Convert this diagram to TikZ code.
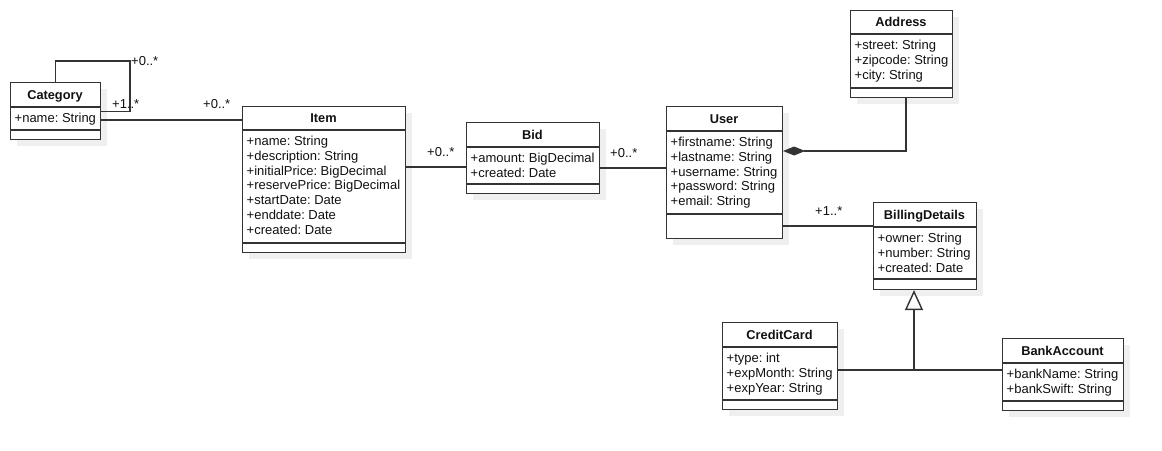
\documentclass[tikz,border=0pt]{standalone}
\usepackage{fontspec}
\setmainfont{Liberation Sans}
\usetikzlibrary{arrows.meta}
\definecolor{linec}{HTML}{333333}
\definecolor{textc}{HTML}{111111}
\definecolor{shadowc}{HTML}{EFEFEF}
\tikzset{
  classbox/.style={draw=linec, line width=1.1pt, fill=white, inner sep=0pt, anchor=north west},
  sepline/.style={draw=linec, line width=1.1pt},
  conn/.style={draw=linec, line width=1.1pt},
  gen/.style={draw=linec, line width=1.4pt},
  title/.style={font=\fontsize{12.8}{15}\selectfont\bfseries\frenchspacing, text=textc, inner sep=0pt, anchor=base},
  attr/.style={font=\fontsize{13}{15}\selectfont\frenchspacing, text=textc, inner sep=0pt, anchor=base west},
  mult/.style={font=\fontsize{13}{15}\selectfont\frenchspacing, text=textc, inner sep=0pt, anchor=base west},
}
% #1 name, #2 x1, #3 y1, #4 x2, #5 y2, #6 sep1, #7 sep2, #8 title, #9 attributes
\newcommand\umlclass[9]{%
  \fill[shadowc] (#2+7,#3+7) rectangle (#4+7,#5+7);
  \node[classbox, minimum width={#4-#2}, minimum height={#5-#3}] (#1) at (#2,#3) {};
  \draw[sepline] (#2,#6) -- (#4,#6);
  \draw[sepline] (#2,#7) -- (#4,#7);
  \node[title] (#1-t) at ({(#2+#4)/2},{(#3+#6)/2+4.5}) {#8};
  \foreach \a [count=\i] in {#9} {
    \node[attr] (#1-a\i) at (#2+4.5,{#6+15.5+14.75*(\i-1)}) {\a};
  }
}
\begin{document}
\frenchspacing
\begin{tikzpicture}[x=1pt,y=-1pt]
\fill[white] (0,0) rectangle (1162,450);
\useasboundingbox (0,0) rectangle (1162,450);

\umlclass{Category}{10}{82}{100}{139}{107}{130}{Category}{+name: String}
\umlclass{Item}{242}{106}{405}{252}{130}{243}{Item}{+name: String,+description: String,+initialPrice: BigDecimal,+reservePrice: BigDecimal,+startDate: Date,+enddate: Date,+created: Date}
\umlclass{Bid}{466}{122}{599}{193}{147}{184}{Bid}{+amount: BigDecimal,+created: Date}
\umlclass{User}{666}{106}{782}{238}{131}{214}{User}{+firstname: String,+lastname: String,+username: String,+password: String,+email: String}
\umlclass{Address}{850}{10}{952}{97}{34}{88}{Address}{+street: String,+zipcode: String,+city: String}
\umlclass{BillingDetails}{873}{202}{976}{289}{227}{279}{BillingDetails}{+owner: String,+number: String,+created: Date}
\umlclass{CreditCard}{722}{322}{837}{409}{347}{400}{CreditCard}{+type: int,+expMonth: String,+expYear: String}
\umlclass{BankAccount}{1002}{338}{1123}{410}{363}{401}{BankAccount}{+bankName: String,+bankSwift: String}

% helper coordinates
\coordinate (loop) at (130,61);
\coordinate (c1) at (0,120);
\coordinate (c2) at (0,167);
\coordinate (c3) at (0,168);
\coordinate (c4) at (906,151);
\coordinate (c5) at (0,226);
\coordinate (junction) at (914,370);

% self association on Category
\draw[conn] (Category.north) |- (loop) |- (Category.east);
% Category - Item
\draw[conn] (Category.east |- c1) -- (Item.west |- c1);
% Item - Bid
\draw[conn] (Item.east |- c2) -- (Bid.west |- c2);
% Bid - User
\draw[conn] (Bid.east |- c3) -- (User.west |- c3);
% Address composition
\draw[conn, -{Diamond[length=22pt,width=9pt,fill=linec]}] (Address.south -| c4) |- (User.east |- c4);
% User - BillingDetails
\draw[conn] (User.east |- c5) -- (BillingDetails.west |- c5);
% Generalization
\draw[gen] (CreditCard.east |- junction) -- (BankAccount.west |- junction);
\draw[gen, -{Triangle[open,length=20pt,width=18pt,fill=white]}] (junction) -- (BillingDetails.south -| junction);

% multiplicities
\node[mult] (m1) at (131,65.5) {+0..*};
\node[mult] (m2) at (112,108) {+1..*};
\node[mult] (m3) at (203,108) {+0..*};
\node[mult] (m4) at (427,156.5) {+0..*};
\node[mult] (m5) at (610,157) {+0..*};
\node[mult] (m6) at (815,215) {+1..*};
\end{tikzpicture}
\end{document}
